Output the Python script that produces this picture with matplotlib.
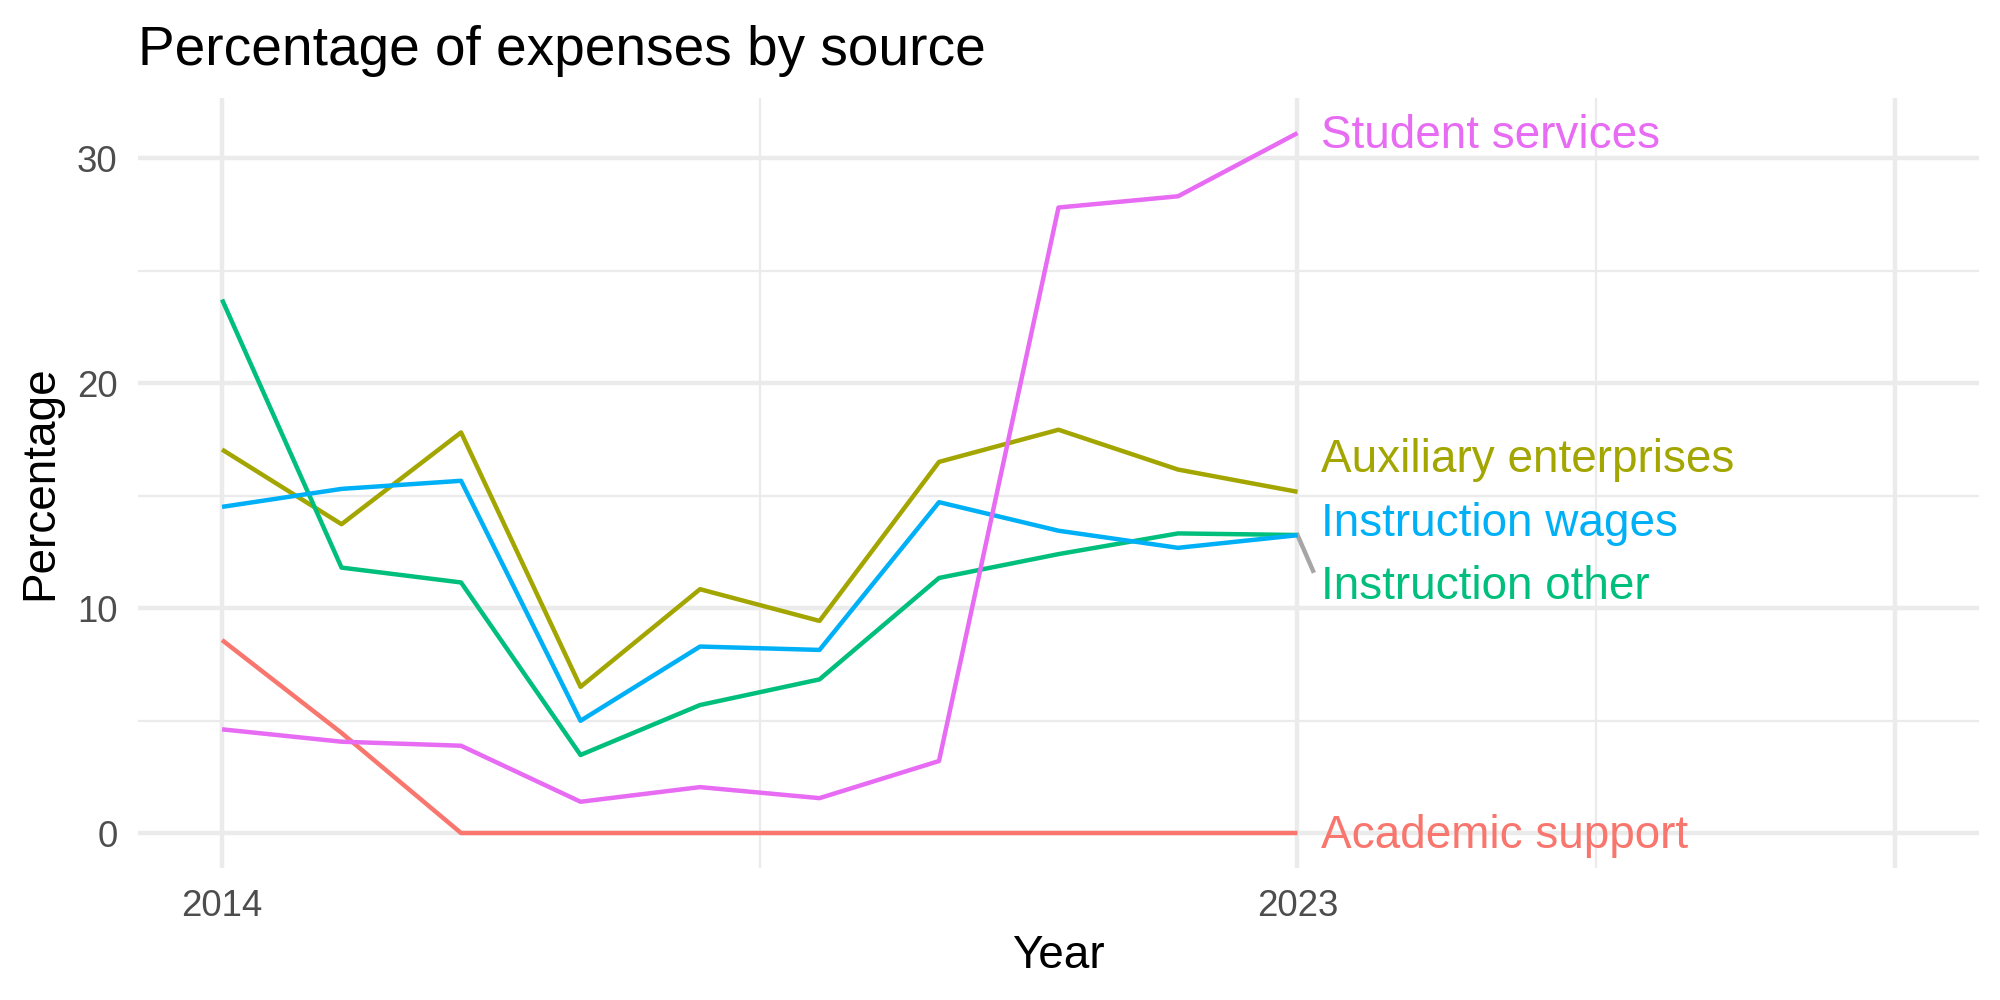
import matplotlib
matplotlib.use("Agg")
import matplotlib.pyplot as plt

plt.rcParams['font.family'] = ['Liberation Sans', 'DejaVu Sans']

# data
years = [2014, 2015, 2016, 2017, 2018, 2019, 2020, 2021, 2022, 2023]
academic_support = [8.58, 4.45, 0, 0, 0, 0, 0, 0, 0, 0]
auxiliary_enterprises = [17.05, 13.73, 17.81, 6.50, 10.84, 9.43, 16.50, 17.93, 16.16, 15.17]
instruction_other = [23.72, 11.80, 11.14, 3.47, 5.69, 6.83, 11.34, 12.40, 13.32, 13.25]
instruction_wages = [14.50, 15.30, 15.66, 4.99, 8.29, 8.14, 14.71, 13.44, 12.68, 13.24]
student_services = [4.61, 4.06, 3.88, 1.39, 2.04, 1.55, 3.20, 27.81, 28.31, 31.12]

series_names = ["Academic support", "Auxiliary enterprises", "Instruction other",
                "Instruction wages", "Student services"]
series_values = [academic_support, auxiliary_enterprises, instruction_other,
                 instruction_wages, student_services]
colors = ["#F8766D", "#A3A500", "#00BF7D", "#00B0F6", "#E76BF3"]

x_major = [2014, 2023, 2028]
x_labels = ["2014", "2023", ""]
x_minor = [2018.5, 2025.5]
y_major = [0, 10, 20, 30]
y_minor = [5, 15, 25]

# repelled label positions (y) next to the last point
label_x = 2023.2
label_y = [-0.15, 16.58, 10.96, 13.74, 30.97]

fig = plt.figure(figsize=(20 / 3, 10 / 3), dpi=300)
ax = fig.add_axes([0.0692, 0.132, 0.9201, 0.770])

grid = "#EBEBEB"
for v in y_major:
    ax.axhline(v, color=grid, lw=1.07, zorder=0)
for v in y_minor:
    ax.axhline(v, color=grid, lw=0.53, zorder=0)
for v in x_major:
    ax.axvline(v, color=grid, lw=1.07, zorder=0)
for v in x_minor:
    ax.axvline(v, color=grid, lw=0.53, zorder=0)

for name, vals, col in zip(series_names, series_values, colors):
    ax.plot(years, vals, color=col, lw=1.07, solid_capstyle="butt", zorder=2)

# grey repel segment for the instruction other label
ax.plot([years[-1], 2023.13], [instruction_other[-1], 11.66], color="#A6A6A6",
        lw=1.07, zorder=1)

for name, ly, col in zip(series_names, label_y, colors):
    ax.text(label_x, ly, name, color=col, fontsize=11, ha="left", va="center")

ax.set_xlim(2013.3, 2028.7)
ax.set_ylim(-1.556, 32.68)
ax.set_xticks(x_major)
ax.set_xticklabels(x_labels)
ax.set_yticks(y_major)
ax.tick_params(length=0, labelsize=8.8, labelcolor="#4D4D4D", pad=5)
for s in ax.spines.values():
    s.set_visible(False)

ax.set_xlabel("Year", fontsize=11, labelpad=2.5)
ax.set_ylabel("Percentage", fontsize=11, labelpad=3.5)
ax.set_title("Percentage of expenses by source", fontsize=13.2, loc="left", pad=8)

fig.savefig("out.png", dpi=300, facecolor="white")
